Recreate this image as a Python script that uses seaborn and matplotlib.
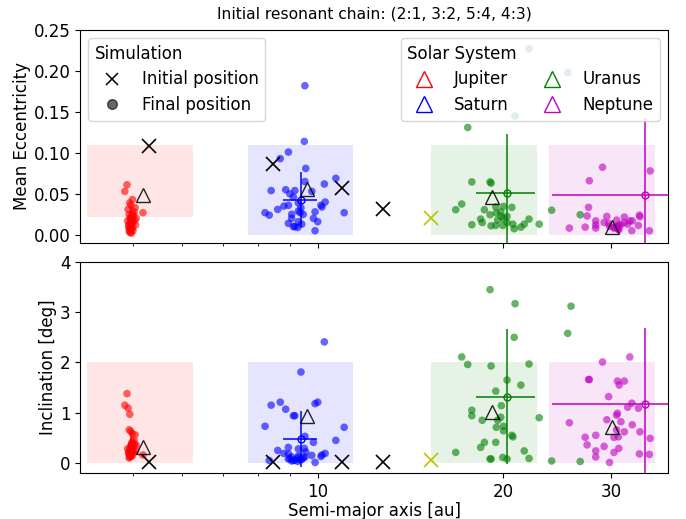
import numpy as np
import pandas as pd
import matplotlib
matplotlib.use("Agg")
import matplotlib.pyplot as plt
import seaborn as sns
from matplotlib.lines import Line2D
from matplotlib.ticker import FixedLocator, NullFormatter, FormatStrFormatter

# ---- planets and colours ----
planets = ["Jupiter", "Saturn", "Uranus", "Neptune"]
planet_colors = ["r", "b", "g", "m"]

# present-day Solar System (a [au], e, i [deg] to invariable plane)
ss_a = [5.20, 9.58, 19.19, 30.07]
ss_e = [0.048, 0.056, 0.046, 0.010]
ss_i = [0.32, 0.93, 1.02, 0.72]

# initial resonant chain
init_a = [5.31, 8.44, 10.95, 12.74, 15.26]
init_e = [0.108, 0.087, 0.057, 0.032, 0.021]
init_i = [0.01, 0.01, 0.01, 0.01, 0.06]
init_colors = ["k", "k", "k", "k", "y"]

# acceptance zones around each planet
zone_a_lo = [4.21, 7.68, 15.27, 23.76]
zone_a_hi = [6.27, 11.40, 22.70, 35.30]
zone_e_lo = [0.022, 0.0, 0.0, 0.0]
zone_e_hi = [0.11, 0.11, 0.11, 0.11]
zone_i_lo = [0.0, 0.0, 0.0, 0.0]
zone_i_hi = [2.0, 2.0, 2.0, 2.0]

# mean and spread of final orbits (all runs)
mean_a = [4.97, 9.37, 20.30, 34.04]
std_a = [0.07, 0.60, 2.20, 10.00]
mean_e = [0.020, 0.043, 0.0515, 0.048]
std_e = [0.015, 0.034, 0.072, 0.094]
mean_i = [0.35, 0.47, 1.32, 1.18]
std_i = [0.30, 0.56, 1.34, 1.50]

# final positions of surviving planets
jup_a = [4.89, 4.85, 4.99, 4.94, 5.19, 5.04, 4.91, 4.96, 5.02, 4.93,
         4.98, 5.06, 4.95, 4.90, 5.00, 4.97, 4.92, 5.03, 4.96, 4.99,
         4.94, 5.01, 4.93, 4.97, 4.95, 5.05, 4.92, 4.98, 4.96, 5.00,
         4.94, 4.99, 4.97, 4.95]
jup_e = [0.061, 0.053, 0.043, 0.039, 0.027, 0.033, 0.031, 0.036, 0.028, 0.025,
         0.022, 0.020, 0.019, 0.017, 0.015, 0.014, 0.012, 0.018, 0.010, 0.008,
         0.006, 0.024, 0.004, 0.002, 0.021, 0.012, 0.009, 0.016, 0.007, 0.005,
         0.013, 0.026, 0.011, 0.003]
jup_i = [1.38, 1.15, 0.58, 0.97, 0.16, 0.56, 1.09, 0.63, 0.45, 0.66,
         0.40, 0.35, 0.30, 0.28, 0.25, 0.22, 0.20, 0.38, 0.18, 0.15,
         0.12, 0.33, 0.10, 0.14, 0.27, 0.24, 0.19, 0.31, 0.17, 0.21,
         0.26, 0.42, 0.23, 0.13]

sat_a = [9.52, 9.50, 8.95, 8.68, 9.55, 9.52, 10.24, 10.69, 8.39, 8.86,
         9.17, 9.00, 9.12, 9.77, 8.95, 8.80, 8.60, 9.29, 10.27, 10.11,
         9.89, 11.03, 8.20, 8.33, 9.06, 9.35, 9.46, 9.06, 9.83, 9.99,
         8.95, 9.12, 9.27, 9.41, 9.89, 9.29, 9.38, 9.29, 10.15, 9.17]
sat_e = [0.182, 0.114, 0.101, 0.093, 0.081, 0.065, 0.062, 0.069, 0.054, 0.055,
         0.054, 0.050, 0.046, 0.053, 0.036, 0.035, 0.031, 0.039, 0.040, 0.036,
         0.028, 0.027, 0.027, 0.024, 0.025, 0.027, 0.025, 0.020, 0.020, 0.016,
         0.014, 0.010, 0.009, 0.013, 0.005, 0.016, 0.033, 0.029, 0.034, 0.010]
sat_i = [0.53, 0.29, 0.31, 1.21, 0.22, 0.12, 2.41, 0.45, 1.15, 1.07,
         0.94, 0.09, 0.94, 0.15, 0.18, 0.19, 0.25, 0.28, 0.19, 0.13,
         1.18, 0.71, 0.73, 0.05, 0.12, 0.06, 0.10, 0.04, 0.41, 1.21,
         0.08, 0.05, 0.03, 0.07, 0.01, 0.14, 1.81, 0.11, 0.16, 0.06]

ura_a = [22.04, 25.48, 20.92, 17.52, 23.99, 26.70, 17.79, 19.05, 19.12, 17.13,
         16.75, 18.65, 19.46, 20.03, 20.67, 19.05, 19.50, 19.87, 20.30, 18.39,
         18.50, 19.60, 17.79, 19.12, 19.46, 19.98, 20.75, 20.85, 21.38, 21.65,
         22.04, 22.90, 20.30, 25.80, 20.03, 19.83]
ura_e = [0.227, 0.198, 0.145, 0.131, 0.030, 0.0245, 0.0646, 0.0646, 0.063, 0.0376,
         0.0306, 0.0306, 0.034, 0.0347, 0.0335, 0.0245, 0.0266, 0.0225, 0.0225, 0.0192,
         0.015, 0.018, 0.0123, 0.011, 0.0114, 0.0114, 0.013, 0.0074, 0.0094, 0.013,
         0.0192, 0.013, 0.015, 0.26, 0.020, 0.028]
ura_i = [1.97, 2.58, 3.17, 1.96, 0.04, 0.03, 1.05, 3.45, 1.93, 2.11,
         0.21, 0.41, 1.43, 0.73, 0.55, 0.08, 0.71, 1.14, 1.65, 0.31,
         0.85, 0.85, 0.94, 0.08, 0.41, 0.11, 0.52, 2.50, 1.55, 0.24,
         0.09, 0.90, 0.08, 3.12, 0.64, 0.91]

nep_a = [32.15, 29.03, 27.55, 27.63, 30.70, 31.50, 30.90, 29.70, 32.40, 31.90,
         33.20, 30.70, 30.60, 29.50, 25.64, 31.10, 32.45, 30.60, 31.50, 33.40,
         28.30, 27.20, 30.30, 30.80, 34.70, 27.40, 29.20, 30.85, 28.30, 30.30,
         28.30, 33.33, 34.60, 29.80]
nep_e = [0.017, 0.0825, 0.0335, 0.066, 0.010, 0.0217, 0.012, 0.014, 0.005, 0.013,
         0.0114, 0.008, 0.0102, 0.0225, 0.0082, 0.012, 0.017, 0.018, 0.015, 0.022,
         0.017, 0.0094, 0.0082, 0.007, 0.078, 0.023, 0.015, 0.006, 0.0082, 0.009,
         0.012, 0.024, 0.0049, 0.0102]
nep_i = [2.11, 2.01, 1.66, 1.66, 1.63, 1.63, 1.55, 1.32, 1.19, 1.11,
         1.09, 0.99, 0.95, 0.86, 0.80, 0.82, 0.76, 0.66, 0.62, 0.62,
         0.55, 0.51, 0.51, 0.52, 0.49, 0.36, 0.33, 0.29, 0.24, 0.21,
         0.12, 0.18, 0.17, 0.01]

final = pd.concat([
    pd.DataFrame({"a": jup_a, "e": jup_e, "inc": jup_i, "planet": "Jupiter"}),
    pd.DataFrame({"a": sat_a, "e": sat_e, "inc": sat_i, "planet": "Saturn"}),
    pd.DataFrame({"a": ura_a, "e": ura_e, "inc": ura_i, "planet": "Uranus"}),
    pd.DataFrame({"a": nep_a, "e": nep_e, "inc": nep_i, "planet": "Neptune"}),
], ignore_index=True)

palette = dict(zip(planets, planet_colors))
FS = 12

fig = plt.figure(figsize=(6.86, 5.19), dpi=100)
ax1 = fig.add_axes([0.1166, 0.5318, 0.8572, 0.4104])
ax2 = fig.add_axes([0.1166, 0.0886, 0.8572, 0.4066], sharex=ax1)

panels = [(ax1, "e", init_e, ss_e, mean_e, std_e, zone_e_lo, zone_e_hi),
          (ax2, "inc", init_i, ss_i, mean_i, std_i, zone_i_lo, zone_i_hi)]

for ax, col, iy, sy, my, sdy, zlo, zhi in panels:
    for k, c in enumerate(planet_colors):
        ax.fill_between([zone_a_lo[k], zone_a_hi[k]], zlo[k], zhi[k],
                        color=c, alpha=0.1, linewidth=0, zorder=1)
    sns.scatterplot(data=final, x="a", y=col, hue="planet", palette=palette,
                    alpha=0.6, s=30, linewidth=0, legend=False, ax=ax, zorder=3)
    for k, c in enumerate(planet_colors):
        ax.errorbar(mean_a[k], my[k], xerr=std_a[k], yerr=sdy[k], fmt="o",
                    ms=5, mfc="none", color=c, lw=1.1, capsize=0, zorder=4)
    for k in range(len(init_a)):
        ax.plot(init_a[k], iy[k], "x", color=init_colors[k], ms=10, mew=1.2, zorder=5)
    ax.plot(ss_a, sy, "^", ms=10, mfc="none", mec="k", mew=1.0,
            linestyle="none", zorder=6, alpha=0.85)
    ax.set_xscale("log")
    ax.tick_params(labelsize=FS)

ax1.set_xlim(4.1, 37.1)
ax1.set_ylim(-0.01, 0.25)
ax2.set_ylim(-0.2, 4.0)
ax1.yaxis.set_major_formatter(FormatStrFormatter("%.2f"))
ax1.set_yticks([0.0, 0.05, 0.10, 0.15, 0.20, 0.25])
ax2.set_yticks([0, 1, 2, 3, 4])
for ax in (ax1, ax2):
    ax.xaxis.set_major_locator(FixedLocator([10, 20, 30]))
    ax.xaxis.set_minor_locator(FixedLocator([5, 6, 7, 8, 9, 40]))
    ax.xaxis.set_minor_formatter(NullFormatter())
ax2.xaxis.set_major_formatter(FormatStrFormatter("%d"))
ax1.tick_params(axis="x", labelbottom=False)

ax1.set_xlabel("")
ax1.set_ylabel("Mean Eccentricity", fontsize=FS, labelpad=2)
ax2.set_ylabel("Inclination [deg]", fontsize=FS, labelpad=2)
ax2.set_xlabel("Semi-major axis [au]", fontsize=FS, labelpad=1)
ax1.set_title("Initial resonant chain: (2:1, 3:2, 5:4, 4:3)", fontsize=11.2, pad=8)
fig.align_ylabels([ax1, ax2])

sim_handles = [
    Line2D([], [], marker="x", color="k", linestyle="none", ms=9, mew=1.1),
    Line2D([], [], marker="o", color="k", alpha=0.6, linestyle="none", ms=7),
]
leg1 = ax1.legend(sim_handles, ["Initial position", "Final position"],
                  title="Simulation", loc="upper left", fontsize=FS,
                  title_fontsize=FS, handletextpad=0.8, borderpad=0.4,
                  labelspacing=0.45, alignment="left")
ax1.add_artist(leg1)
ss_handles = [Line2D([], [], marker="^", mfc="none", mec=c, color=c,
                     linestyle="none", ms=12, mew=1.0) for c in planet_colors]
ax1.legend(ss_handles, planets, title="Solar System", loc="upper right",
           ncol=2, fontsize=FS, title_fontsize=FS, handletextpad=0.8,
           borderpad=0.4, labelspacing=0.45, columnspacing=1.6, alignment="left")

fig.savefig("out.png", dpi=100)
